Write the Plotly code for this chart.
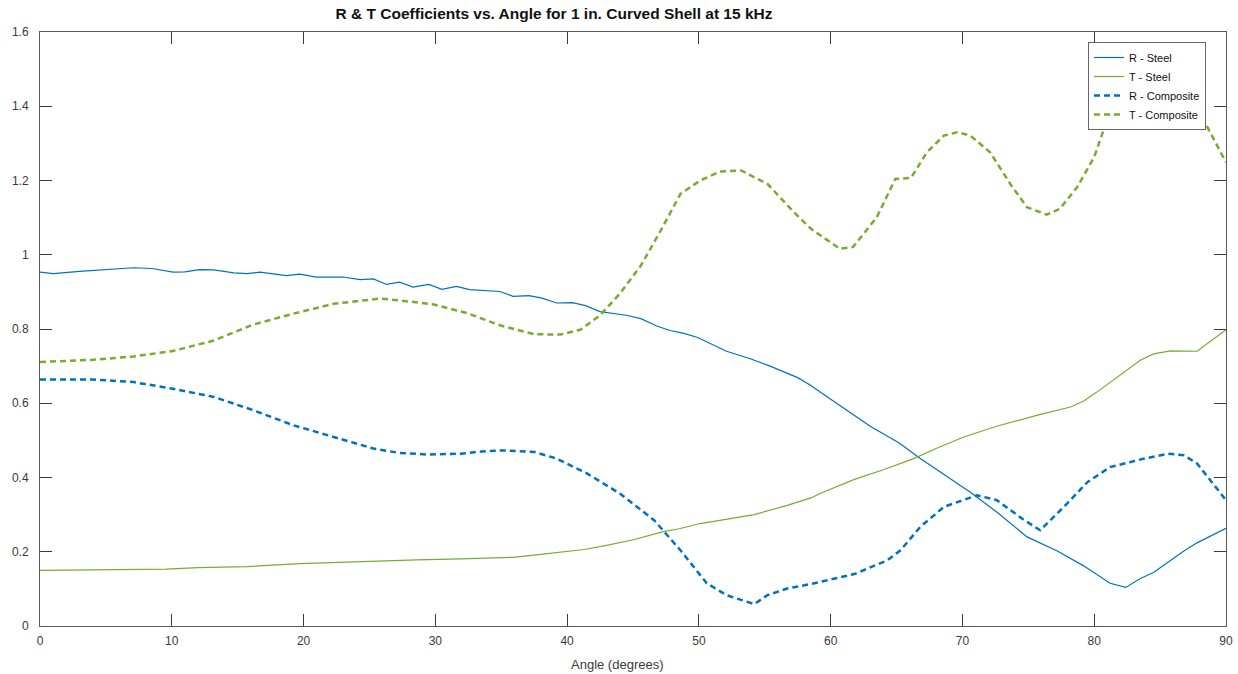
import plotly.graph_objects as go

# ---- data ----
r_steel_x = [0, 1.0, 3, 5, 7.1, 8.5, 10.1, 11, 12.1, 13.2, 14.7, 15.7, 16.7, 18.7, 19.7, 21.0, 23.0,
             24.3, 25.3, 26.3, 27.3, 28.3, 29.5, 30.5, 31.6, 32.6, 34.9, 35.9, 37.1, 38.1, 39.2, 40.4,
             41.4, 42.5, 44.5, 45.6, 46.8, 47.8, 48.8, 49.9, 52.1, 53.9, 55.4, 57.5, 58.5, 59.2, 60.7,
             63.0, 65.2, 66.8, 70.6, 72.6, 74.9, 77.2, 79.2, 81.2, 82.4, 83.5, 84.5, 86.8, 87.8, 90]
r_steel_y = [0.953, 0.949, 0.955, 0.960, 0.965, 0.963, 0.953, 0.954, 0.960, 0.959, 0.951, 0.949, 0.953,
             0.944, 0.948, 0.940, 0.940, 0.933, 0.935, 0.920, 0.926, 0.913, 0.920, 0.907, 0.915, 0.906,
             0.901, 0.888, 0.890, 0.883, 0.870, 0.871, 0.863, 0.847, 0.837, 0.828, 0.808, 0.796, 0.789,
             0.777, 0.740, 0.720, 0.700, 0.669, 0.648, 0.630, 0.594, 0.538, 0.493, 0.451, 0.360, 0.307,
             0.240, 0.202, 0.162, 0.115, 0.104, 0.128, 0.144, 0.202, 0.224, 0.263]

t_steel_x = [0, 5, 9.6, 12, 15.7, 19.7, 22, 24.8, 28.6, 32, 35.9, 38, 41.3, 43, 45.1, 47.3, 48.5, 50.1,
             52, 54.2, 56.7, 58.5, 59.2, 61.8, 64.0, 66.3, 68, 70.1, 72.6, 75.7, 78.2, 79.2, 80.2, 83.5,
             84.5, 85.8, 87.8, 90]
t_steel_y = [0.150, 0.151, 0.153, 0.157, 0.160, 0.168, 0.171, 0.175, 0.178, 0.181, 0.185, 0.193, 0.206,
             0.217, 0.233, 0.254, 0.262, 0.276, 0.287, 0.300, 0.325, 0.345, 0.357, 0.395, 0.421, 0.451,
             0.478, 0.509, 0.538, 0.568, 0.590, 0.606, 0.630, 0.716, 0.733, 0.741, 0.740, 0.798]

r_comp_x = [0, 4.0, 7.1, 10.1, 13.2, 16.2, 19.2, 22.3, 25.3, 27.3, 29.4, 31.9, 33.5, 35.2, 37.5, 39.2,
            41.5, 44.0, 46.6, 48.6, 50.6, 52.1, 54.2, 55.2, 56.7, 58.5, 59.2, 61.8, 64.3, 65.3, 66.8,
            68.6, 71.1, 72.6, 74.7, 75.9, 77.7, 79.5, 81.2, 83.8, 85.6, 86.8, 87.8, 90]
r_comp_y = [0.664, 0.664, 0.657, 0.639, 0.617, 0.581, 0.541, 0.509, 0.478, 0.466, 0.462, 0.464, 0.470,
            0.473, 0.469, 0.451, 0.411, 0.357, 0.285, 0.204, 0.115, 0.083, 0.059, 0.083, 0.101, 0.113,
            0.119, 0.140, 0.177, 0.204, 0.267, 0.321, 0.352, 0.339, 0.285, 0.258, 0.321, 0.388, 0.428,
            0.451, 0.464, 0.460, 0.438, 0.339]

t_comp_x = [0, 4.0, 7.1, 10.1, 13.2, 16.2, 19.2, 22.3, 25.8, 27.3, 29.9, 32.4, 34.9, 37.5, 39.5, 41.0,
            42.5, 44.0, 45.6, 47.1, 48.6, 50.1, 51.6, 53.2, 55.2, 57.2, 58.5, 60.7, 61.7, 63.5, 64.9,
            66.1, 67.3, 68.6, 69.6, 70.6, 72.1, 73.7, 74.9, 76.4, 77.4, 78.7, 80.0, 80.7, 82.5, 84.5,
            86.5, 88.6, 90]
t_comp_y = [0.711, 0.717, 0.726, 0.741, 0.769, 0.812, 0.841, 0.868, 0.882, 0.877, 0.866, 0.843, 0.810,
            0.786, 0.785, 0.798, 0.837, 0.895, 0.971, 1.065, 1.164, 1.200, 1.224, 1.227, 1.191, 1.115,
            1.070, 1.016, 1.021, 1.101, 1.204, 1.207, 1.276, 1.321, 1.330, 1.321, 1.276, 1.187, 1.128,
            1.108, 1.124, 1.182, 1.263, 1.335, 1.45, 1.50, 1.47, 1.343, 1.249]

x_ticks = [0, 10, 20, 30, 40, 50, 60, 70, 80, 90]
y_ticks = [0, 0.2, 0.4, 0.6, 0.8, 1.0, 1.2, 1.4, 1.6]
y_tick_text = ["0", "0.2", "0.4", "0.6", "0.8", "1", "1.2", "1.4", "1.6"]

BLUE = "#0072BD"
GREEN = "#77AC30"
DASH = "6px,4px"
FONT = "Liberation Sans, Arial, sans-serif"

W, H = 1238, 674
ML, MR, MT, MB = 40, 12, 32, 48
PW = W - ML - MR
PH = H - MT - MB

fig = go.Figure()
fig.add_trace(go.Scatter(x=r_steel_x, y=r_steel_y, mode="lines", name="R - Steel",
                         line=dict(color=BLUE, width=1.2)))
fig.add_trace(go.Scatter(x=t_steel_x, y=t_steel_y, mode="lines", name="T - Steel",
                         line=dict(color=GREEN, width=1.2)))
fig.add_trace(go.Scatter(x=r_comp_x, y=r_comp_y, mode="lines", name="R - Composite",
                         line=dict(color=BLUE, width=2.5, dash=DASH)))
fig.add_trace(go.Scatter(x=t_comp_x, y=t_comp_y, mode="lines", name="T - Composite",
                         line=dict(color=GREEN, width=2.5, dash=DASH)))

axis_common = dict(showgrid=False, zeroline=False, showline=True, linecolor="#5a5a5a", linewidth=1,
                   mirror="ticks", ticks="inside", ticklen=12, tickcolor="#3a3a3a", tickwidth=1,
                   automargin=False,
                   tickfont=dict(family=FONT, size=12, color="#3a3a3a"))

fig.update_layout(
    width=W, height=H,
    margin=dict(l=ML, r=MR, t=MT, b=MB, autoexpand=False),
    paper_bgcolor="white", plot_bgcolor="white",
    title=dict(text="<b>R & T Coefficients vs. Angle for 1 in. Curved Shell at 15 kHz</b>",
               x=554 / W, xanchor="center", xref="container",
               y=1 - 14 / H, yanchor="middle", yref="container",
               font=dict(family=FONT, size=15.5, color="#111111")),
    xaxis=dict(range=[0, 90], tickvals=x_ticks, ticklabelstandoff=4, **axis_common),
    yaxis=dict(range=[0, 1.6], tickvals=y_ticks, ticktext=y_tick_text, ticklabelstandoff=8,
               **axis_common),
    legend=dict(x=(1088 - ML) / PW, y=(H - MB - 42) / PH, xanchor="left", yanchor="top",
                bgcolor="white", bordercolor="#666666", borderwidth=1, tracegroupgap=0,
                font=dict(family=FONT, size=11, color="#111111")),
    showlegend=True,
    annotations=[dict(text="Angle (degrees)", xref="paper", yref="paper",
                      x=(617 - ML) / PW, y=-(664 - (H - MB)) / PH, xanchor="center", yanchor="middle",
                      showarrow=False,
                      font=dict(family=FONT, size=13, color="#3a3a3a"))],
)

fig.write_html("out.html", config={"displayModeBar": False},
               post_script="document.body.style.margin='0';document.body.style.overflow='hidden';")
